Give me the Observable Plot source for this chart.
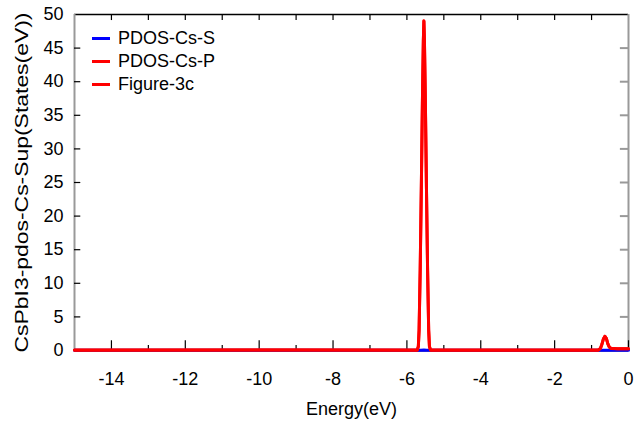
<!DOCTYPE html>
<html><head><meta charset="utf-8">
<script src="https://cdn.jsdelivr.net/npm/d3@7"></script>
<script src="https://cdn.jsdelivr.net/npm/@observablehq/plot@0.6"></script>
<style>
body{margin:0;background:#fff;}
#wrap{position:relative;width:639px;height:425px;font-family:"Liberation Sans",Arial,sans-serif;}
.legend{position:absolute;left:92px;top:27px;font-size:18px;color:#000;}
.row{display:flex;align-items:center;height:23px;white-space:nowrap;}
.sw{width:18px;height:3px;margin-right:8px;}
</style></head><body><div id="wrap"></div>
<script>
// Series names and colours
const seriesNames = ["PDOS-Cs-S", "PDOS-Cs-P", "Figure-3c"];
const seriesColors = ["#0000ff", "#ff0000", "#ff0000"];

// PDOS-Cs-S (blue) – essentially zero
const energyS = [-15, -9.0, -5.62, -5.54, -5.46, -1.0, 0];
const dosS    = [0.02, 0.02, 0.04, 0.08, 0.04, 0.02, 0.02];

// PDOS-Cs-P (red)
const energyP = [-15, -9.0, -5.72, -5.69, -5.67, -5.64, -5.61, -5.58, -5.555, -5.54, -5.525, -5.50, -5.47, -5.44, -5.41, -5.39, -5.36,
                 -0.82, -0.76, -0.72, -0.68, -0.64, -0.60, -0.56, -0.52, -0.47, -0.30, 0];
const dosP    = [0.05, 0.06, 0.05, 0.6, 3, 12, 24, 37, 46, 49, 46, 37, 24, 12, 3, 0.6, 0.05,
                 0.05, 0.3, 0.9, 1.7, 2.1, 1.8, 1.0, 0.5, 0.3, 0.25, 0.25];

// Figure-3c (red)
const energyF = [-15, -9.0, -5.72, -5.69, -5.67, -5.64, -5.61, -5.58, -5.555, -5.54, -5.525, -5.50, -5.47, -5.44, -5.41, -5.39, -5.36,
                 -0.82, -0.76, -0.72, -0.68, -0.64, -0.60, -0.56, -0.52, -0.47, -0.30, 0];
const dosF    = [0.07, 0.08, 0.07, 0.62, 3.02, 12.05, 24.05, 37.05, 46.05, 49.08, 46.05, 37.05, 24.05, 12.05, 3.02, 0.62, 0.07,
                 0.07, 0.32, 0.92, 1.72, 2.12, 1.82, 1.02, 0.52, 0.32, 0.27, 0.27];

// Ticks
const xMajor = [-14, -12, -10, -8, -6, -4, -2, 0];
const xMinor = [-13, -11, -9, -7, -5, -3, -1];
const xAll   = [-14, -13, -12, -11, -10, -9, -8, -7, -6, -5, -4, -3, -2, -1];
const yTicks = [0, 5, 10, 15, 20, 25, 30, 35, 40, 45, 50];

const xLabel = "Energy(eV)";
const yLabel = "CsPbI3-pdos-Cs-Sup(States(eV))";

const S = energyS.map((e, i) => ({e, v: dosS[i]}));
const P = energyP.map((e, i) => ({e, v: dosP[i]}));
const F = energyF.map((e, i) => ({e, v: dosF[i]}));

const plot = Plot.plot({
  width: 639, height: 425,
  marginLeft: 74, marginRight: 11, marginTop: 14, marginBottom: 75,
  style: {fontFamily: '"Liberation Sans", Arial, sans-serif', fontSize: "18px", color: "#000", background: "#fff", overflow: "visible"},
  x: {domain: [-15, 0]},
  y: {domain: [0, 50]},
  marks: [
    Plot.ruleY([50], {stroke: "#000", strokeWidth: 1.5}),
    Plot.ruleX([-15], {stroke: "#999", strokeWidth: 2}),
    Plot.ruleX([0], {stroke: "#999", strokeWidth: 2}),
    Plot.ruleY(yTicks.slice(1, -1), {y: d => d, x1: -15, x2: -15 + 0.17, stroke: "#000", strokeWidth: 1.2}),
    Plot.ruleY(yTicks.slice(1, -1), {y: d => d, x1: -0.22, x2: 0, stroke: "#999", strokeWidth: 2}),
    Plot.ruleX(xMajor, {x: d => d, y1: 0, y2: 1.45, stroke: "#000", strokeWidth: 1.2}),
    Plot.ruleX(xMinor, {x: d => d, y1: 0, y2: 0.75, stroke: "#000", strokeWidth: 1.2}),
    Plot.ruleX(xAll, {x: d => d, y1: 50 - 0.9, y2: 50, stroke: "#000", strokeWidth: 1.2}),
    Plot.ruleY([0], {stroke: "#000", strokeWidth: 2}),
    Plot.axisX({ticks: xMajor, tickSize: 0, tickPadding: 22, tickFormat: d => String(d),
      label: xLabel, labelAnchor: "center", labelArrow: "none", labelOffset: 64, fontSize: 18}),
    Plot.axisY({ticks: yTicks, tickSize: 0, tickPadding: 11, tickFormat: d => String(d),
      label: yLabel, labelAnchor: "center", labelArrow: "none", labelOffset: 59, fontSize: 18}),
    Plot.line(S, {x: "e", y: "v", stroke: seriesColors[0], strokeWidth: 3}),
    Plot.line(P, {x: "e", y: "v", stroke: seriesColors[1], strokeWidth: 3}),
    Plot.line(F, {x: "e", y: "v", stroke: seriesColors[2], strokeWidth: 3})
  ]
});

const wrap = document.getElementById("wrap");
wrap.appendChild(plot);

// stretch the y label along its length as in the reference
d3.select(plot).selectAll("text").each(function() {
  if (this.textContent === yLabel) {
    this.setAttribute("textLength", 340);
    this.setAttribute("lengthAdjust", "spacingAndGlyphs");
  }
});

const legend = document.createElement("div");
legend.className = "legend";
seriesNames.forEach((name, i) => {
  const row = document.createElement("div");
  row.className = "row";
  const sw = document.createElement("span");
  sw.className = "sw";
  sw.style.background = seriesColors[i];
  const t = document.createElement("span");
  t.textContent = name;
  row.appendChild(sw); row.appendChild(t);
  legend.appendChild(row);
});
wrap.appendChild(legend);
</script>
</body></html>
